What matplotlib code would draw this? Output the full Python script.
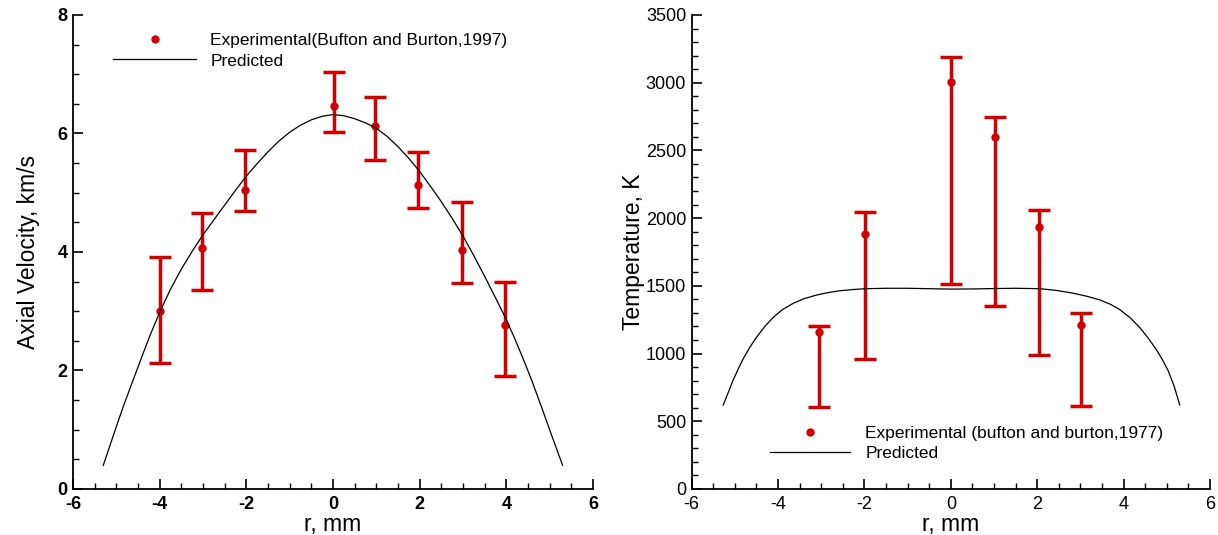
import matplotlib
matplotlib.use("Agg")
import matplotlib.pyplot as plt
from matplotlib.ticker import MultipleLocator

plt.rcParams['font.family'] = ['Liberation Sans', 'DejaVu Sans']
plt.rcParams['axes.unicode_minus'] = False

# axial velocity - experimental (km/s)
vel_r = [-4.0, -3.02, -2.02, 0.03, 0.98, 1.97, 2.98, 3.98]
vel_exp = [3.01, 4.07, 5.05, 6.46, 6.13, 5.13, 4.03, 2.77]
vel_low = [2.13, 3.36, 4.69, 6.02, 5.55, 4.75, 3.47, 1.90]
vel_high = [3.91, 4.65, 5.72, 7.03, 6.61, 5.69, 4.85, 3.49]

# axial velocity - predicted
vel_pr_r = [-5.3, -5.07, -4.84, -4.6, -4.38, -4.2, -4.0, -3.75, -3.5, -3.25, -3.0, -2.75, -2.5,
            -2.25, -2.0, -1.75, -1.5, -1.25, -1.0, -0.75, -0.5, -0.25, 0.0, 0.25, 0.5, 0.75,
            1.0, 1.25, 1.5, 1.75, 2.0, 2.25, 2.5, 2.75, 3.0, 3.25, 3.5, 3.75, 4.0, 4.2,
            4.4, 4.6, 4.85, 5.07, 5.3]
vel_pred = [0.40, 0.90, 1.39, 1.86, 2.29, 2.63, 2.98, 3.37, 3.71, 4.01, 4.29, 4.54, 4.79,
            5.04, 5.28, 5.49, 5.69, 5.87, 6.02, 6.14, 6.23, 6.29, 6.32, 6.30, 6.25, 6.18,
            6.09, 5.95, 5.78, 5.58, 5.36, 5.11, 4.85, 4.57, 4.27, 3.94, 3.59, 3.23, 2.86, 2.53,
            2.18, 1.81, 1.31, 0.86, 0.40]

# temperature - experimental (K)
tmp_r = [-3.05, -1.98, 0.01, 1.02, 2.05, 3.02]
tmp_exp = [1160, 1882, 3003, 2599, 1935, 1208]
tmp_low = [608, 960, 1514, 1350, 989, 613]
tmp_high = [1206, 2048, 3190, 2750, 2058, 1297]

# temperature - predicted
tmp_pr_r = [-5.27, -5.15, -5.04, -4.92, -4.81, -4.65, -4.5, -4.3, -4.11, -3.9, -3.65, -3.4,
            -3.11, -2.85, -2.57, -2.25, -1.97, -1.5, -1.0, -0.5, 0.0, 0.5, 1.0, 1.5, 2.06,
            2.45, 2.83, 3.15, 3.45, 3.7, 3.91, 4.15, 4.38, 4.58, 4.76, 4.9, 5.03, 5.17, 5.3]
tmp_pred = [620, 715, 805, 888, 960, 1048, 1120, 1203, 1268, 1324, 1371, 1405,
            1432, 1450, 1464, 1473, 1479, 1482, 1482, 1479, 1476, 1477, 1480, 1482, 1479,
            1466, 1446, 1423, 1396, 1363, 1325, 1265, 1190, 1110, 1028, 955, 875, 760, 620]

RED = '#d40000'

fig = plt.figure(figsize=(12.18, 5.35), dpi=100)
ax1 = fig.add_axes([0.0599, 0.086, 0.4269, 0.886])
ax2 = fig.add_axes([0.5679, 0.086, 0.4255, 0.886])


def style_axis(ax, xmin, xmax, xmaj, xmin_step, ymin, ymax, ymaj, ymin_step, bold):
    ax.set_xlim(xmin, xmax)
    ax.set_ylim(ymin, ymax)
    ax.xaxis.set_major_locator(MultipleLocator(xmaj))
    ax.xaxis.set_minor_locator(MultipleLocator(xmin_step))
    ax.yaxis.set_major_locator(MultipleLocator(ymaj))
    ax.yaxis.set_minor_locator(MultipleLocator(ymin_step))
    ax.spines['top'].set_visible(False)
    ax.spines['right'].set_visible(False)
    for s in ('left', 'bottom'):
        ax.spines[s].set_linewidth(1.3)
    ax.tick_params(which='major', direction='in', length=7, width=1.2, labelsize=13)
    ax.tick_params(which='minor', direction='in', length=4, width=1.0)
    ax.tick_params(axis='x', pad=5)
    ax.tick_params(axis='y', pad=4)
    if bold:
        for lab in ax.get_xticklabels() + ax.get_yticklabels():
            lab.set_fontweight('bold')


# left panel
ax1.errorbar(vel_r, vel_exp,
             yerr=[[e - l for e, l in zip(vel_exp, vel_low)],
                   [h - e for e, h in zip(vel_exp, vel_high)]],
             fmt='none', ecolor=RED, elinewidth=2.5, capsize=8, capthick=2.5, zorder=2)
ax1.plot(vel_r, vel_exp, 'o', color=RED, ms=5,
         label='Experimental(Bufton and Burton,1997)', zorder=3)
ax1.plot(vel_pr_r, vel_pred, color='black', lw=0.9, label='Predicted', zorder=4)
style_axis(ax1, -6, 6, 2, 0.5, 0, 8, 2, 0.5, True)
ax1.set_xlabel('r, mm', fontsize=16.5)
ax1.set_ylabel('Axial Velocity, km/s', fontsize=16.5)
ax1.xaxis.set_label_coords(0.5, -0.051)
ax1.yaxis.set_label_coords(-0.064, 0.5)
ax1.legend(loc='upper left', bbox_to_anchor=(0.077, 0.962), frameon=False, fontsize=12.5,
           numpoints=1, handlelength=4.8, handletextpad=0.8, labelspacing=0.3,
           borderpad=0, borderaxespad=0)

# right panel
ax2.errorbar(tmp_r, tmp_exp,
             yerr=[[e - l for e, l in zip(tmp_exp, tmp_low)],
                   [h - e for e, h in zip(tmp_exp, tmp_high)]],
             fmt='none', ecolor=RED, elinewidth=2.5, capsize=8, capthick=2.5, zorder=2)
ax2.plot(tmp_r, tmp_exp, 'o', color=RED, ms=5,
         label='Experimental (bufton and burton,1977)', zorder=3)
ax2.plot(tmp_pr_r, tmp_pred, color='black', lw=0.9, label='Predicted', zorder=4)
style_axis(ax2, -6, 6, 2, 0.5, 0, 3500, 500, 100, False)
ax2.set_xlabel('r, mm', fontsize=16.5)
ax2.set_ylabel('Temperature, K', fontsize=16.5)
ax2.xaxis.set_label_coords(0.5, -0.051)
ax2.yaxis.set_label_coords(-0.09, 0.5)
ax2.legend(loc='upper left', bbox_to_anchor=(0.151, 0.133), frameon=False, fontsize=12.5,
           numpoints=1, handlelength=4.6, handletextpad=0.9, labelspacing=0.3,
           borderpad=0, borderaxespad=0)

fig.savefig('out.png', dpi=100)
